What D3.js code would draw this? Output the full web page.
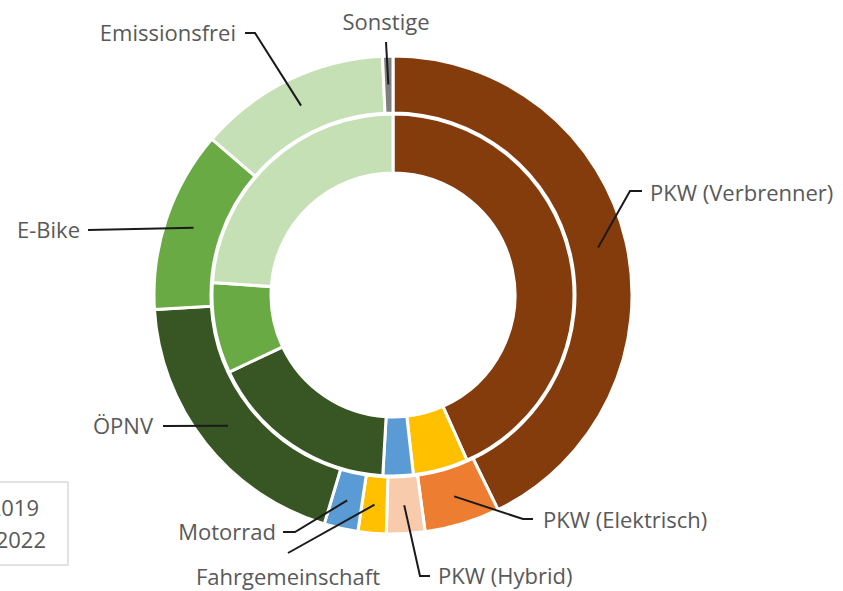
<!DOCTYPE html>
<html lang="de">
<head>
<meta charset="UTF-8">
<script src="https://cdn.jsdelivr.net/npm/d3@7"></script>
<style>
  body { margin:0; background:#fff; }
  .lbl { font-family:"Open Sans", sans-serif; font-size:22px; fill:#595959; }
  .leader { fill:none; stroke:#1a1a1a; stroke-width:2px; }
</style>
<title>Verkehrsmittel 2019 / 2022</title>
</head>
<body>
<script>
// Anteile in Prozent, im Uhrzeigersinn ab 12 Uhr
var categories = ["PKW (Verbrenner)", "PKW (Elektrisch)", "PKW (Hybrid)", "Fahrgemeinschaft",
                  "Motorrad", "ÖPNV", "E-Bike", "Emissionsfrei", "Sonstige"];
var values2019 = [43.3, 0, 0, 4.9, 2.7, 17.1, 8.1, 23.9, 0];
var values2022 = [42.8, 5.1, 2.6, 1.9, 2.3, 19.4, 12.3, 13.0, 0.7];
var colors = ["#843c0c", "#ed7d31", "#f8cbad", "#ffc000", "#5b9bd5",
              "#375623", "#6aaa44", "#c5e0b4", "#7f7f7f"];
var legendLabels = ["2019", "2022"];

var width = 843, height = 591;
var cx = 393, cy = 295;

var svg = d3.select("body").append("svg")
    .attr("width", width)
    .attr("height", height);

var g = svg.append("g")
    .attr("transform", "translate(" + cx + "," + cy + ")");

var pie = d3.pie().sort(null).value(function(d) { return d.v; });

function ringData(vals) {
  return categories.map(function(c, i) { return {name: c, v: vals[i], i: i}; });
}

var innerArc = d3.arc().innerRadius(122).outerRadius(181);
var outerArc = d3.arc().innerRadius(182).outerRadius(239);

g.selectAll("path.inner")
  .data(pie(ringData(values2019)).filter(function(d) { return d.data.v > 0; }))
  .enter().append("path")
    .attr("class", "inner")
    .attr("d", innerArc)
    .attr("fill", function(d) { return colors[d.data.i]; })
    .attr("stroke", "#fff")
    .attr("stroke-width", 3);

var outerPie = pie(ringData(values2022));

g.selectAll("path.outer")
  .data(outerPie)
  .enter().append("path")
    .attr("class", "outer")
    .attr("d", outerArc)
    .attr("fill", function(d) { return colors[d.data.i]; })
    .attr("stroke", "#fff")
    .attr("stroke-width", 3);

// label placement (page coords), leader goes from text to the outer ring centroid
var labelLayout = [
  {x: 650, y: 193, anchor: "start",  pts: [[642, 191], [630, 191]]},
  {x: 543, y: 520, anchor: "start",  pts: [[533, 519], [523, 519]]},
  {x: 438, y: 576, anchor: "start",  pts: [[430, 576], [420, 576]]},
  {x: 288, y: 577, anchor: "middle", pts: [[288, 553]]},
  {x: 276, y: 532, anchor: "end",    pts: [[283, 532], [295, 532]]},
  {x: 153, y: 426, anchor: "end",    pts: [[163, 426]]},
  {x: 80,  y: 230, anchor: "end",    pts: [[88, 230]]},
  {x: 236, y: 33,  anchor: "end",    pts: [[245, 33], [255, 33]]},
  {x: 386, y: 22,  anchor: "middle", pts: [[386, 42]]}
];

var line = d3.line();

outerPie.forEach(function(d) {
  var L = labelLayout[d.data.i];
  var c = outerArc.centroid(d);
  var pts = L.pts.concat([[c[0] + cx, c[1] + cy]]);
  svg.append("path")
    .attr("class", "leader")
    .attr("d", line(pts));
  svg.append("text")
    .attr("class", "lbl")
    .attr("x", L.x)
    .attr("y", L.y)
    .attr("dy", "0.35em")
    .attr("text-anchor", L.anchor)
    .text(d.data.name);
});

// legend box (cut at the left page edge, as in the source)
var legend = svg.append("g");
legend.append("rect")
  .attr("x", -20).attr("y", 482)
  .attr("width", 88).attr("height", 83)
  .attr("fill", "#fff")
  .attr("stroke", "#d9d9d9")
  .attr("stroke-width", 1.5);
legend.selectAll("text").data(legendLabels).enter().append("text")
  .attr("class", "lbl")
  .attr("x", function(d, i) { return i === 0 ? 39 : 46; })
  .attr("y", function(d, i) { return 508 + i * 32; })
  .attr("dy", "0.35em")
  .attr("text-anchor", "end")
  .text(function(d) { return d; });
</script>
</body>
</html>
